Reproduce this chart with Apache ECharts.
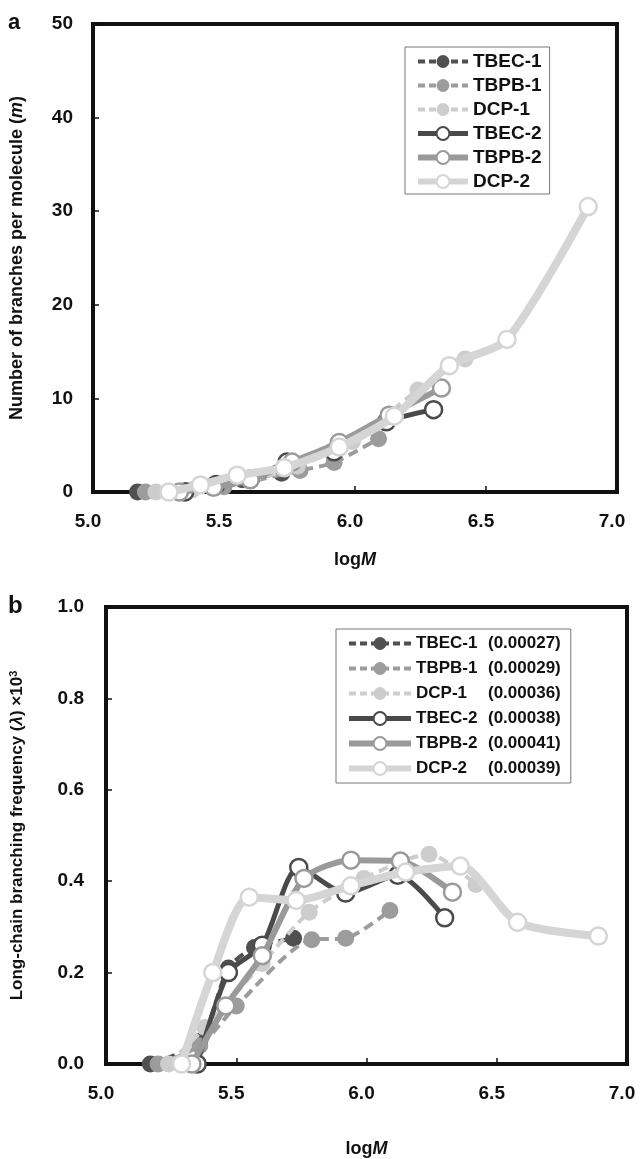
<!DOCTYPE html>
<html>
<head>
<meta charset="utf-8">
<script src="https://cdn.jsdelivr.net/npm/echarts@6/dist/echarts.min.js"></script>
<style>
html,body{margin:0;padding:0;background:#fff;}
#main{width:640px;height:1159px;}
</style>
</head>
<body>
<div id="main"></div>
<script>
// series names and the average lambda shown in legend b
var names = ['TBEC-1', 'TBPB-1', 'DCP-1', 'TBEC-2', 'TBPB-2', 'DCP-2'];
var lambdaAvg = ['(0.00027)', '(0.00029)', '(0.00036)', '(0.00038)', '(0.00041)', '(0.00039)'];

// logM for each sample
var logM_TBEC1 = [5.17, 5.36, 5.47, 5.57, 5.72];
var logM_TBPB1 = [5.20, 5.36, 5.50, 5.79, 5.92, 6.09];
var logM_DCP1  = [5.24, 5.38, 5.60, 5.78, 5.99, 6.24, 6.42];
var logM_TBEC2 = [5.35, 5.47, 5.60, 5.74, 5.92, 6.12, 6.30];
var logM_TBPB2 = [5.33, 5.46, 5.60, 5.76, 5.94, 6.13, 6.33];
var logM_DCP2  = [5.29, 5.41, 5.55, 5.73, 5.94, 6.15, 6.36, 6.58, 6.89];

// a: number of branches per molecule (m)
var m_TBEC1 = [0, 0.15, 0.85, 1.3, 2.0];
var m_TBPB1 = [0, 0.13, 0.55, 2.3, 3.15, 5.7];
var m_DCP1  = [0, 0.25, 1.2, 2.75, 5.4, 10.9, 14.2];
var m_TBEC2 = [0, 0.8, 1.4, 3.2, 4.3, 7.5, 8.8];
var m_TBPB2 = [0, 0.5, 1.3, 3.2, 5.3, 8.2, 11.1];
var m_DCP2  = [0, 0.75, 1.8, 2.6, 4.8, 8.1, 13.5, 16.3, 30.5];

// b: long-chain branching frequency (lambda x 10^3)
var lcb_TBEC1 = [0, 0.05, 0.21, 0.255, 0.275];
var lcb_TBPB1 = [0, 0.04, 0.127, 0.272, 0.275, 0.336];
var lcb_DCP1  = [0, 0.08, 0.22, 0.332, 0.406, 0.459, 0.393];
var lcb_TBEC2 = [0, 0.20, 0.26, 0.43, 0.374, 0.413, 0.32];
var lcb_TBPB2 = [0, 0.127, 0.237, 0.406, 0.446, 0.444, 0.376];
var lcb_DCP2  = [0, 0.20, 0.365, 0.358, 0.39, 0.42, 0.433, 0.31, 0.28];

var logMs = [logM_TBEC1, logM_TBPB1, logM_DCP1, logM_TBEC2, logM_TBPB2, logM_DCP2];
var mVals = [m_TBEC1, m_TBPB1, m_DCP1, m_TBEC2, m_TBPB2, m_DCP2];
var lcbVals = [lcb_TBEC1, lcb_TBPB1, lcb_DCP1, lcb_TBEC2, lcb_TBPB2, lcb_DCP2];

var colors = ['#505050', '#9c9c9c', '#cdcdcd', '#4a4a4a', '#9a9a9a', '#d5d5d5'];
var dashed = [true, true, true, false, false, false];
var widths = [4, 4, 4, 5, 6, 8];

var font = '"Liberation Sans", Arial, sans-serif';
var myChart = echarts.init(document.getElementById('main'));

function pairs(xs, ys) {
    return xs.map(function (x, i) { return [x, ys[i]]; });
}

function makeSeries(i, idx, ys) {
    var hollow = !dashed[i];
    return {
        name: names[i],
        type: 'line',
        xAxisIndex: idx,
        yAxisIndex: idx,
        data: pairs(logMs[i], ys),
        smooth: 0.25,
        symbol: 'circle',
        symbolSize: 17,
        lineStyle: {
            color: colors[i],
            width: widths[i],
            type: dashed[i] ? [10, 6] : 'solid'
        },
        itemStyle: {
            color: hollow ? '#fff' : colors[i],
            borderColor: colors[i],
            borderWidth: hollow ? 2.5 : 0
        },
        z: 2 + i
    };
}

var series = [];
for (var i = 0; i < names.length; i++) series.push(makeSeries(i, 0, mVals[i]));
for (var i = 0; i < names.length; i++) series.push(makeSeries(i, 1, lcbVals[i]));

// legend items with the real line widths (legend clamps them otherwise)
var legendItems = names.map(function (n, i) {
    return {
        name: n,
        lineStyle: {width: Math.min(widths[i], 6), type: dashed[i] ? [7, 4] : 'solid', color: colors[i]},
        itemStyle: {borderWidth: dashed[i] ? 0 : 2, borderColor: colors[i]}
    };
});

function xAxisCfg(idx, gap) {
    return {
        type: 'value', gridIndex: idx, min: 5, max: 7, interval: 0.5,
        name: '{n|log}{i|M}', nameLocation: 'middle', nameGap: gap,
        nameTextStyle: {
            rich: {
                n: {fontFamily: font, fontSize: 18, fontWeight: 'bold', color: '#111'},
                i: {fontFamily: font, fontSize: 18, fontWeight: 'bold', fontStyle: 'italic', color: '#111'}
            }
        },
        axisLine: {lineStyle: {color: '#111', width: 4}},
        axisTick: {inside: true, length: 6, lineStyle: {color: '#111', width: 1.5}},
        axisLabel: {
            margin: 20, color: '#111', fontFamily: font, fontSize: 19, fontWeight: 'bold',
            padding: [0, 10, 0, 0],
            formatter: function (v) { return v.toFixed(1); }
        },
        splitLine: {show: false}
    };
}

option = {
    animation: false,
    backgroundColor: '#fff',
    grid: [
        {left: 90, right: 23, top: 24, bottom: 667, show: true, borderColor: '#111', borderWidth: 4},
        {left: 104, right: 13, top: 607, bottom: 91, show: true, borderColor: '#111', borderWidth: 4}
    ],
    xAxis: [xAxisCfg(0, 59), xAxisCfg(1, 76)],
    yAxis: [
        {
            type: 'value', gridIndex: 0, min: 0, max: 50, interval: 10,
            name: 'Number of branches per molecule ({i|m})', nameLocation: 'middle', nameGap: 67,
            nameTextStyle: {
                fontFamily: font, fontSize: 18, fontWeight: 'bold', color: '#111',
                rich: {i: {fontFamily: font, fontSize: 18, fontWeight: 'bold', fontStyle: 'italic', color: '#111'}}
            },
            axisLine: {lineStyle: {color: '#111', width: 4}},
            axisTick: {inside: true, length: 6, lineStyle: {color: '#111', width: 1.5}},
            axisLabel: {margin: 20, color: '#111', fontFamily: font, fontSize: 19, fontWeight: 'bold'},
            splitLine: {show: false}
        },
        {
            type: 'value', gridIndex: 1, min: 0, max: 1, interval: 0.2,
            name: 'Long-chain branching frequency ({i|λ}) ×10{s|3}', nameLocation: 'middle', nameGap: 79,
            nameTextStyle: {
                fontFamily: font, fontSize: 17, fontWeight: 'bold', color: '#111',
                rich: {
                    i: {fontFamily: font, fontSize: 17, fontWeight: 'bold', fontStyle: 'italic', color: '#111'},
                    s: {fontFamily: font, fontSize: 11, fontWeight: 'bold', color: '#111', verticalAlign: 'top', padding: [0, 0, 8, 0]}
                }
            },
            axisLine: {lineStyle: {color: '#111', width: 4}},
            axisTick: {inside: true, length: 6, lineStyle: {color: '#111', width: 1.5}},
            axisLabel: {
                margin: 22, color: '#111', fontFamily: font, fontSize: 19, fontWeight: 'bold',
                formatter: function (v) { return v.toFixed(1); }
            },
            splitLine: {show: false}
        }
    ],
    legend: [
        {
            data: legendItems, orient: 'vertical', left: 405, top: 47,
            itemWidth: 50, itemHeight: 16, itemGap: 5,
            padding: [5, 8, 3, 10],
            borderColor: '#777', borderWidth: 1, backgroundColor: '#fff',
            textStyle: {fontFamily: font, fontSize: 19, fontWeight: 'bold', color: '#111'}
        },
        {
            data: legendItems, orient: 'vertical', left: 336, top: 629,
            itemWidth: 62, itemHeight: 16, itemGap: 8,
            padding: [6, 10, 6, 10],
            borderColor: '#777', borderWidth: 1, backgroundColor: '#fff',
            formatter: function (name) {
                return '{a|' + name + '}{b|' + lambdaAvg[names.indexOf(name)] + '}';
            },
            textStyle: {
                fontFamily: font, fontSize: 17, fontWeight: 'bold', color: '#111',
                rich: {
                    a: {fontFamily: font, fontSize: 17, fontWeight: 'bold', color: '#111', width: 72},
                    b: {fontFamily: font, fontSize: 17, fontWeight: 'bold', color: '#111'}
                }
            }
        }
    ],
    graphic: [
        {type: 'text', left: 8, top: 12, style: {text: 'a', font: 'bold 22px ' + font, fill: '#111'}},
        {type: 'text', left: 8, top: 594, style: {text: 'b', font: 'bold 24px ' + font, fill: '#111'}}
    ],
    series: series
};

myChart.setOption(option, true);
</script>
</body>
</html>
